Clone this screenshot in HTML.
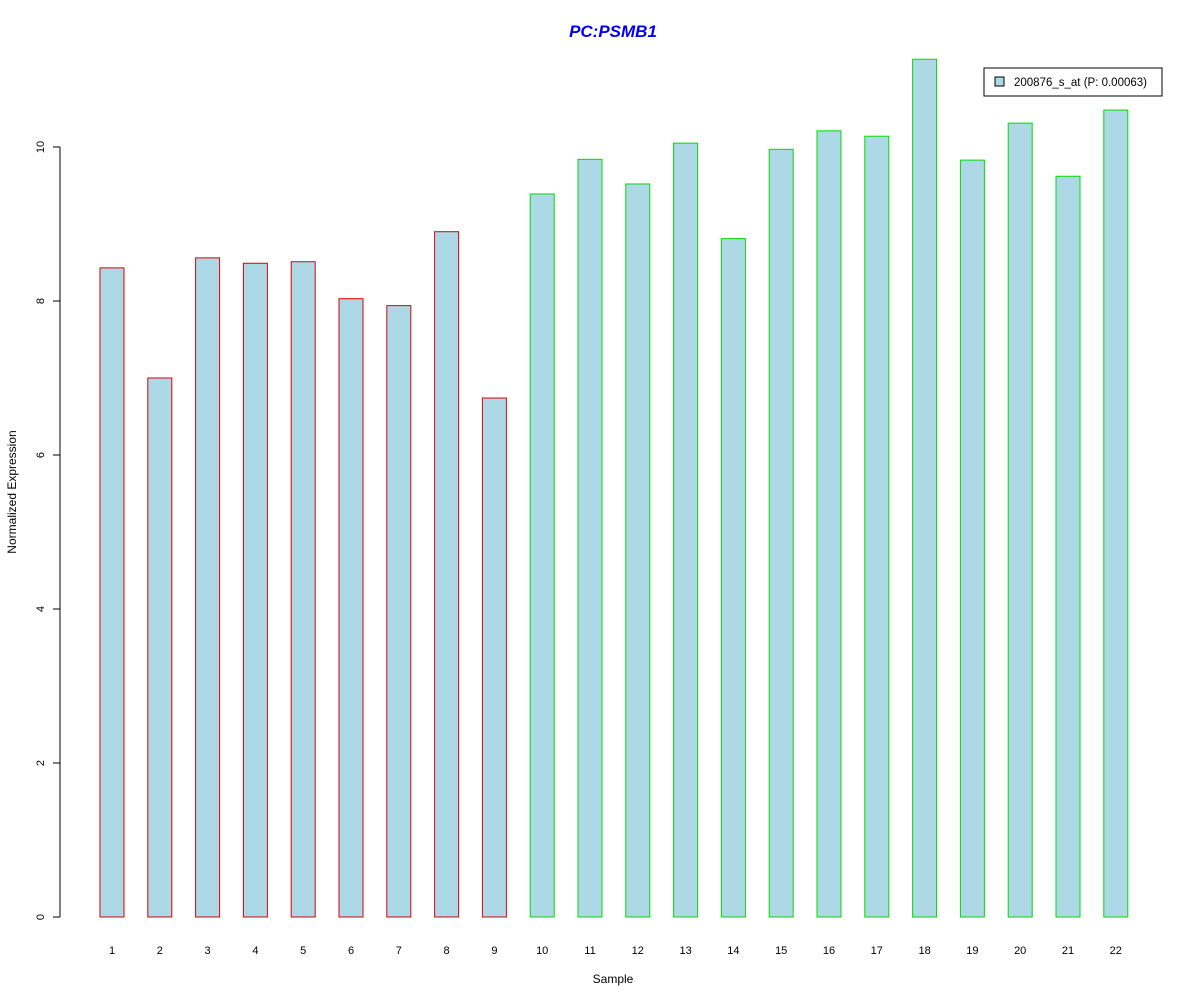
<!DOCTYPE html>
<html><head><meta charset="utf-8"><style>
body{margin:0;background:#fff;}
svg{display:block;font-family:"Liberation Sans",sans-serif;}
</style></head><body>
<svg id="chart" width="1200" height="1000">
<text x="613" y="37" text-anchor="middle" font-size="17" font-weight="bold" font-style="italic" fill="#0000ee">PC:PSMB1</text>
<text x="613" y="983" text-anchor="middle" font-size="12">Sample</text>
<text transform="translate(16,492) rotate(-90)" text-anchor="middle" font-size="12">Normalized Expression</text>
<g id="yaxis"></g>
<g id="bars"></g>
<g id="xlabels"></g>
<g>
<rect x="984" y="68" width="178" height="28" fill="#fff" stroke="#000" stroke-width="1"/>
<rect x="995" y="77" width="9" height="9" fill="#add8e6" stroke="#000" stroke-width="1"/>
<text x="1014" y="86" font-size="11.5">200876_s_at (P: 0.00063)</text>
</g>
</svg>
<script>
const categories = ["1","2","3","4","5","6","7","8","9","10","11","12","13","14","15","16","17","18","19","20","21","22"];
const values = [8.43,7.0,8.56,8.49,8.51,8.03,7.94,8.90,6.74,9.39,9.84,9.52,10.05,8.81,9.97,10.21,10.14,11.14,9.83,10.31,9.62,10.48];
const groups = ["a","a","a","a","a","a","a","a","a","b","b","b","b","b","b","b","b","b","b","b","b","b"];
const yTicks = [0,2,4,6,8,10];
const NS="http://www.w3.org/2000/svg";
const y = v => 917 - v*77;
const x = i => 112 + i*47.8;
const ya=document.getElementById('yaxis');
function mk(t,a,p){const e=document.createElementNS(NS,t);for(const k in a)e.setAttribute(k,a[k]);p.appendChild(e);return e;}
mk('line',{x1:60,x2:60,y1:y(yTicks[0]),y2:y(yTicks[yTicks.length-1]),stroke:'#000'},ya);
yTicks.forEach(t=>{
  mk('line',{x1:53,x2:60,y1:y(t),y2:y(t),stroke:'#000'},ya);
  const tx=mk('text',{transform:`translate(44,${y(t)}) rotate(-90)`,'text-anchor':'middle','font-size':11},ya);
  tx.textContent=t;
  
  
});
const bg=document.getElementById('bars'), xl=document.getElementById('xlabels');
values.forEach((v,i)=>{
  const r=mk('rect',{x:x(i)-12,y:y(v),width:24,height:y(0)-y(v),fill:'#add8e6',stroke:groups[i]==='a'?'#dd0000':'#00dd00','stroke-width':1},bg);
  
  
  const t=mk('text',{x:x(i),y:954,'text-anchor':'middle','font-size':11},xl);
  t.textContent=categories[i];
  
  
});
</script>
</body></html>
